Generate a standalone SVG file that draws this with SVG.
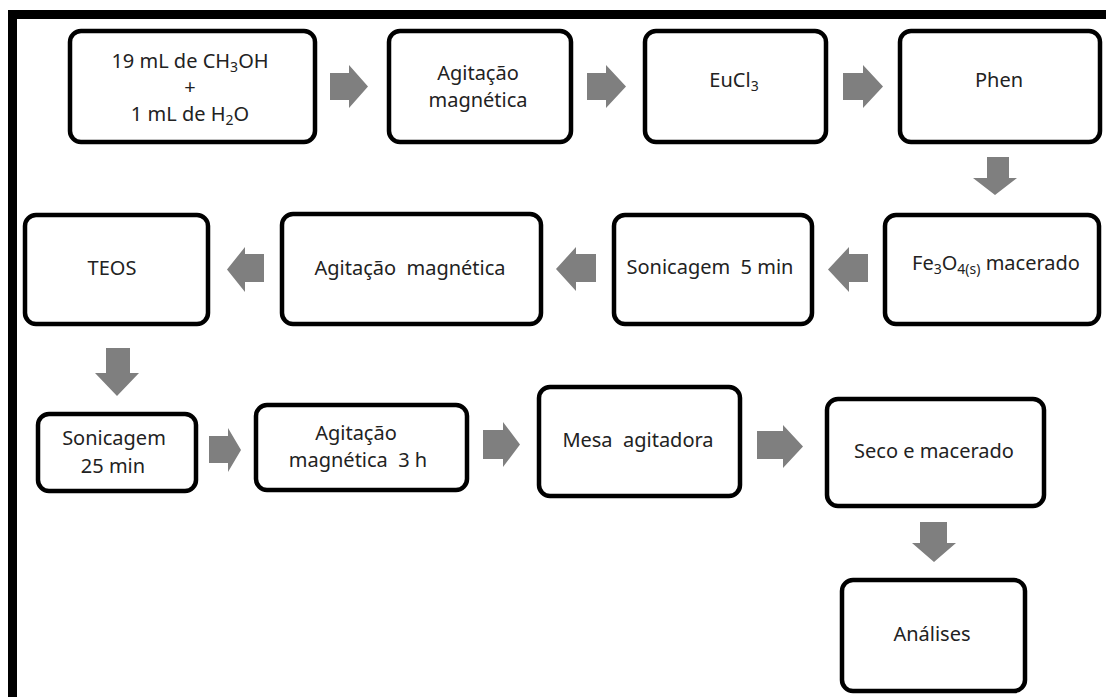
<svg xmlns="http://www.w3.org/2000/svg" width="1106" height="697" viewBox="0 0 1106 697">
<style>
.frame{fill:none;stroke:#000;stroke-width:9}
.box{fill:#fff;stroke:#000;stroke-width:4.5}
.t{font-family:"Noto Sans","Open Sans",sans-serif;font-size:20px;fill:#222;text-anchor:middle;white-space:pre}
.sub{font-size:14px}
.arr{fill:#7f7f7f}
</style>
<rect width="1106" height="697" fill="#fff"/>
<rect class="frame" x="12.5" y="14.5" width="1110" height="700"/>
<g id="connectors">
  <path class="arr" d="M330,73 H349 V65 L368,86.5 L349,108 V100 H330 Z"/>
  <path class="arr" d="M587,73 H606 V65 L626,86.5 L606,108 V100 H587 Z"/>
  <path class="arr" d="M843,73 H863 V65 L883,86.5 L863,108 V100 H843 Z"/>
  <path class="arr" d="M987,157 H1009 V178 H1017 L995,195 L973,178 H987 Z"/>
  <path class="arr" d="M868,254 H849 V247 L828,269.5 L849,292 V282 H868 Z"/>
  <path class="arr" d="M596,254 H576 V247 L556,269 L576,291 V282 H596 Z"/>
  <path class="arr" d="M264,254 H245 V247 L227,269.5 L245,292 V282 H264 Z"/>
  <path class="arr" d="M106,348 H130 V373 H139 L117,396 L95,373 H106 Z"/>
  <path class="arr" d="M209,436 H228 V428 L241,450 L228,472 V463 H209 Z"/>
  <path class="arr" d="M483,430 H503 V422 L520,444.5 L503,467 V459 H483 Z"/>
  <path class="arr" d="M757,431 H783 V425 L803,446.5 L783,468 V459 H757 Z"/>
  <path class="arr" d="M920,522 H947 V543 H956 L934,562 L912,543 H920 Z"/>
</g>
<g id="n1">
  <rect class="box" x="70" y="31" width="245" height="111" rx="11"/>
  <text class="t" x="190" y="68">19 mL de CH<tspan class="sub" dy="4">3</tspan><tspan dy="-4">OH</tspan></text>
  <text class="t" x="190" y="94">+</text>
  <text class="t" x="190" y="121">1 mL de H<tspan class="sub" dy="4">2</tspan><tspan dy="-4">O</tspan></text>
</g>
<g id="n2">
  <rect class="box" x="389" y="31" width="182" height="111" rx="11"/>
  <text class="t" x="478" y="80">Agitação</text>
  <text class="t" x="478" y="107">magnética</text>
</g>
<g id="n3">
  <rect class="box" x="645" y="31" width="181" height="111" rx="11"/>
  <text class="t" x="734" y="87">EuCl<tspan class="sub" dy="4">3</tspan></text>
</g>
<g id="n4">
  <rect class="box" x="900" y="31" width="200" height="111" rx="11"/>
  <text class="t" x="999" y="87">Phen</text>
</g>
<g id="n5">
  <rect class="box" x="885" y="215" width="214" height="109" rx="11"/>
  <text class="t" x="996" y="270">Fe<tspan class="sub" dy="4">3</tspan><tspan dy="-4">O</tspan><tspan class="sub" dy="4">4(s)</tspan><tspan dy="-4"> macerado</tspan></text>
</g>
<g id="n6">
  <rect class="box" x="614" y="215" width="198" height="109" rx="11"/>
  <text class="t" x="710" y="274">Sonicagem  5 min</text>
</g>
<g id="n7">
  <rect class="box" x="282" y="214" width="259" height="110" rx="11"/>
  <text class="t" x="410" y="275">Agitação  magnética</text>
</g>
<g id="n8">
  <rect class="box" x="25" y="215" width="183" height="109" rx="11"/>
  <text class="t" x="112" y="275">TEOS</text>
</g>
<g id="n9">
  <rect class="box" x="38" y="414" width="158" height="77" rx="11"/>
  <text class="t" x="114" y="445">Sonicagem</text>
  <text class="t" x="113" y="473">25 min</text>
</g>
<g id="n10">
  <rect class="box" x="256" y="405" width="211" height="85" rx="11"/>
  <text class="t" x="356" y="440">Agitação</text>
  <text class="t" x="358" y="467">magnética  3 h</text>
</g>
<g id="n11">
  <rect class="box" x="539" y="387" width="201" height="109" rx="11"/>
  <text class="t" x="638" y="447">Mesa  agitadora</text>
</g>
<g id="n12">
  <rect class="box" x="827" y="399" width="217" height="107" rx="11"/>
  <text class="t" x="934" y="458">Seco e macerado</text>
</g>
<g id="n13">
  <rect class="box" x="842" y="580" width="183" height="111" rx="11"/>
  <text class="t" x="932" y="641">Análises</text>
</g>
</svg>
